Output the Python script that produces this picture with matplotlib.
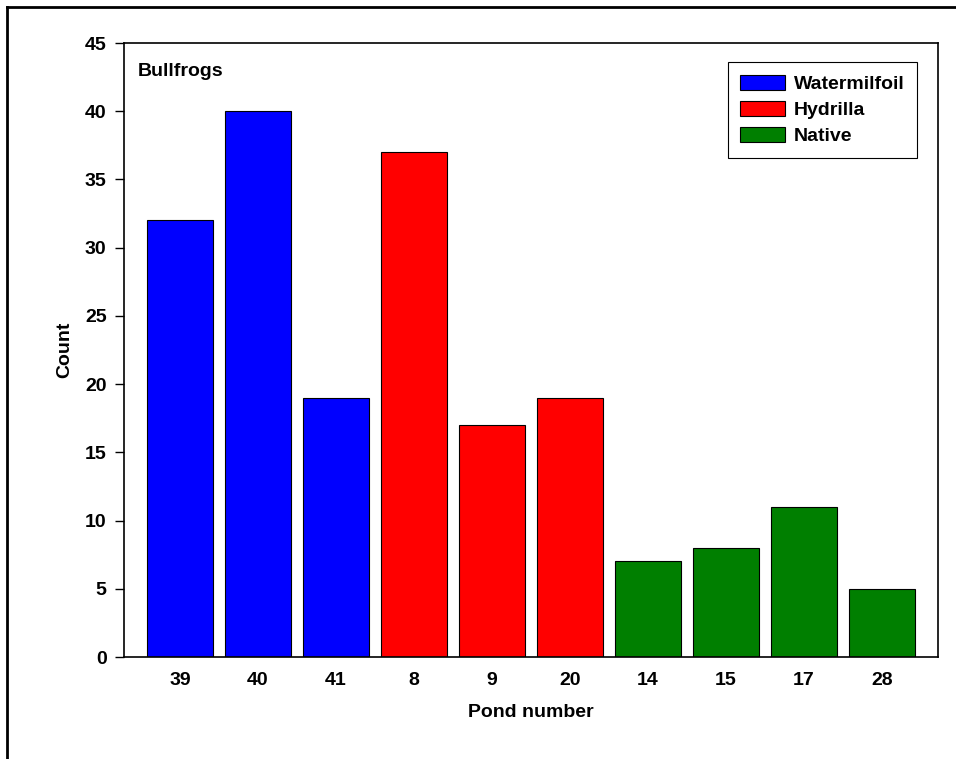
import matplotlib
matplotlib.use("Agg")
import matplotlib.pyplot as plt
from matplotlib.patches import Patch
from matplotlib.lines import Line2D

ponds = ["39", "40", "41", "8", "9", "20", "14", "15", "17", "28"]
counts = [32, 40, 19, 37, 17, 19, 7, 8, 11, 5]
groups = ["Watermilfoil", "Watermilfoil", "Watermilfoil", "Hydrilla", "Hydrilla",
          "Hydrilla", "Native", "Native", "Native", "Native"]
group_names = ["Watermilfoil", "Hydrilla", "Native"]
group_colors = {"Watermilfoil": "#0000ff", "Hydrilla": "#ff0000", "Native": "#007f00"}
yticks = [0, 5, 10, 15, 20, 25, 30, 35, 40, 45]

plt.rcParams['font.family'] = ['Liberation Sans', 'DejaVu Sans']
plt.rcParams['font.weight'] = 'bold'

FS = 14
W, H = 956, 759
fig = plt.figure(figsize=(W / 100, H / 100), dpi=100)
ax = fig.add_axes([124 / W, 1 - 657 / H, (938 - 124) / W, (657 - 43) / H])

x = list(range(len(ponds)))
ax.bar(x, counts, width=0.846, color=[group_colors[g] for g in groups],
       edgecolor="black", linewidth=0.8)
ax.set_xlim(-0.718, len(ponds) - 1 + 0.718)
ax.set_ylim(0, 45)
ax.set_yticks(yticks)
ax.set_xticks(x)
ax.set_xticklabels(ponds)
ax.tick_params(axis="x", length=0, pad=11, labelsize=FS)
ax.tick_params(axis="y", direction="out", length=6.5, width=1, pad=6, labelsize=FS)
for lab in ax.get_xticklabels() + ax.get_yticklabels():
    lab.set_fontweight("bold")
for s in ax.spines.values():
    s.set_linewidth(1.2)
ax.set_xlabel("Pond number", fontsize=FS, fontweight="bold", labelpad=10.5)
ax.set_ylabel("Count", fontsize=FS, fontweight="bold", labelpad=8.5)

ax.text(0.017, 0.968, "Bullfrogs", transform=ax.transAxes, fontsize=FS,
        fontweight="bold", va="top", ha="left")

handles = [Patch(facecolor=group_colors[g], edgecolor="black", linewidth=0.8, label=g)
           for g in group_names]
leg = ax.legend(handles=handles, loc="upper right", bbox_to_anchor=(917 / W, 1 - 62 / H),
                bbox_transform=fig.transFigure, fancybox=False, framealpha=1,
                edgecolor="black", prop={"size": FS, "weight": "bold"},
                handlelength=2.3, handleheight=0.83, borderpad=0.65, labelspacing=0.4,
                handletextpad=0.45, borderaxespad=0)
leg.get_frame().set_linewidth(0.8)

# figure border (top and left)
fig.add_artist(Line2D([7 / W, 1], [1 - 7 / H, 1 - 7 / H], transform=fig.transFigure,
                      color="black", linewidth=2))
fig.add_artist(Line2D([7 / W, 7 / W], [0, 1 - 7 / H], transform=fig.transFigure,
                      color="black", linewidth=2))

fig.savefig("out.png", dpi=100)
